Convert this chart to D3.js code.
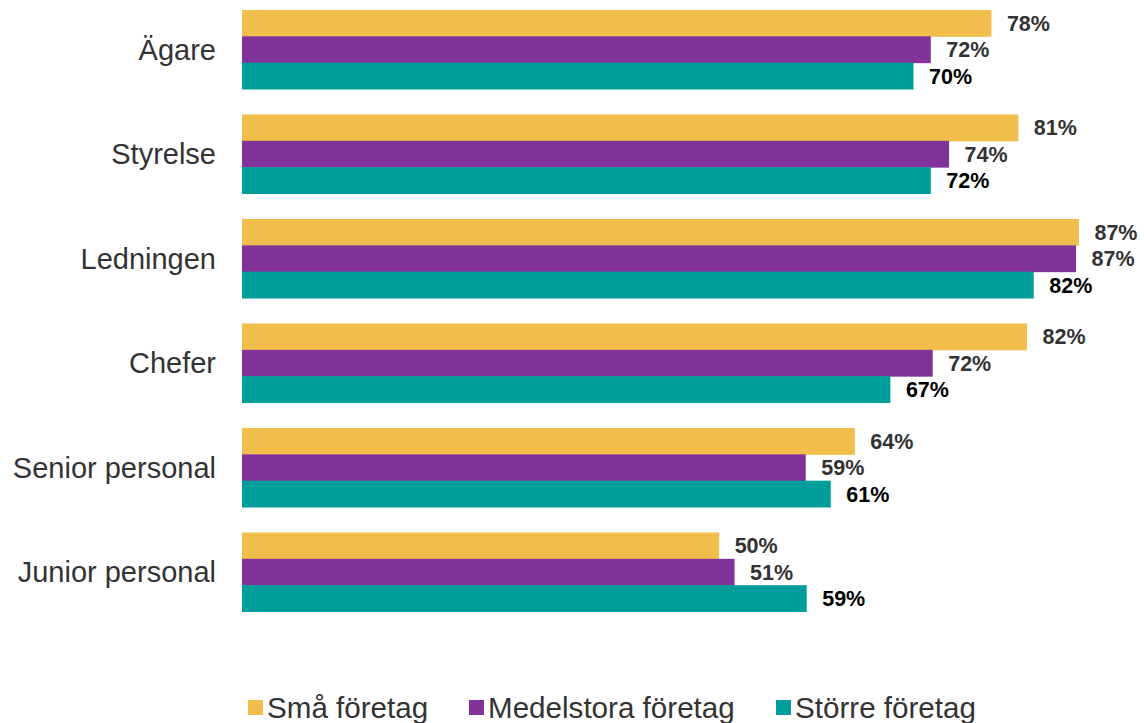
<!DOCTYPE html>
<html>
<head>
<meta charset="utf-8">
<script src="https://cdn.jsdelivr.net/npm/d3@7"></script>
<style>
  body { margin: 0; background: #fff; }
  svg { display: block; font-family: "Liberation Sans", Arial, sans-serif; }
</style>
</head>
<body>
<svg id="chart" width="1144" height="723"></svg>
<script>
const categories = ["Ägare", "Styrelse", "Ledningen", "Chefer", "Senior personal", "Junior personal"];
const seriesNames = ["Små företag", "Medelstora företag", "Större företag"];
const smaValues = [0.779, 0.807, 0.870, 0.816, 0.637, 0.496];
const medelValues = [0.716, 0.735, 0.867, 0.718, 0.586, 0.512];
const storreValues = [0.698, 0.716, 0.823, 0.674, 0.612, 0.587];
const seriesColors = ["#f1be4b", "#82339a", "#009e9b"];
const labelColors = ["#333333", "#333333", "#000000"];

const allValues = [smaValues, medelValues, storreValues];

const svg = d3.select("#chart");

const x = d3.scaleLinear().domain([0, 1]).range([242, 242 + 962]);

const y = d3.scaleBand()
  .domain(categories)
  .range([10, 611.5])
  .paddingInner(0.244)
  .paddingOuter(0);

const ySub = d3.scaleBand()
  .domain(d3.range(seriesNames.length))
  .range([0, y.bandwidth()]);

const fmt = d3.format(".0%");

const rows = categories.map((c, i) => ({
  category: c,
  values: allValues.map((vals, s) => ({ s: s, v: vals[i] }))
}));

const group = svg.append("g")
  .selectAll("g")
  .data(rows)
  .enter()
  .append("g")
  .attr("transform", (d) => "translate(0," + y(d.category) + ")");

group.selectAll("rect")
  .data((d) => d.values)
  .enter()
  .append("rect")
  .attr("x", x(0))
  .attr("y", (d) => ySub(d.s))
  .attr("width", (d) => x(d.v) - x(0))
  .attr("height", ySub.bandwidth() + 0.5)
  .attr("fill", (d) => seriesColors[d.s]);

group.selectAll("text.value")
  .data((d) => d.values)
  .enter()
  .append("text")
  .attr("class", "value")
  .attr("x", (d) => x(d.v) + 15.5)
  .attr("y", (d) => ySub(d.s) + ySub.bandwidth() / 2)
  .attr("dy", "0.36em")
  .attr("font-size", 21.5)
  .attr("font-weight", "bold")
  .attr("fill", (d) => labelColors[d.s])
  .text((d) => fmt(d.v));

// category labels
svg.append("g")
  .selectAll("text")
  .data(categories)
  .enter()
  .append("text")
  .attr("x", 216)
  .attr("y", (d) => y(d) + y.bandwidth() / 2)
  .attr("dy", "0.36em")
  .attr("text-anchor", "end")
  .attr("font-size", 29)
  .attr("fill", "#333333")
  .text((d) => d);

// legend
const legendX = [248, 469, 776];
const legend = svg.append("g")
  .selectAll("g")
  .data(seriesNames)
  .enter()
  .append("g")
  .attr("transform", (d, i) => "translate(" + legendX[i] + ",700)");

legend.append("rect")
  .attr("width", 15)
  .attr("height", 15)
  .attr("fill", (d, i) => seriesColors[i]);

legend.append("text")
  .attr("x", 19)
  .attr("y", 18)
  .attr("font-size", 29.6)
  .attr("fill", "#333333")
  .text((d) => d);
</script>
</body>
</html>
